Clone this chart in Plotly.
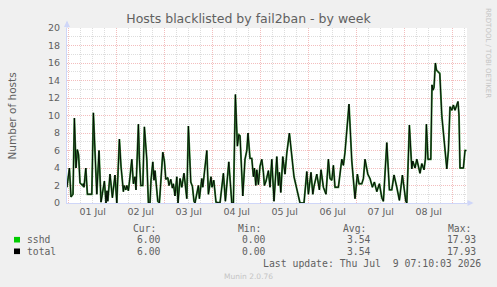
import pandas as pd
import plotly.graph_objects as go

# ---------------- data ----------------
start = pd.Timestamp("2026-06-30 23:10:03")
end = pd.Timestamp("2026-07-09 07:10:03")

hours = [
    0, 1.2, 2, 3, 3.7, 4.5, 5.2, 5.8, 6.5, 7,
    7.8, 8.2, 8.5, 9.4, 10.2, 12.4, 13.2, 14.9, 16, 17,
    18.7, 19.5, 20, 20.4, 21.5, 22.7, 24, 24.9, 26.2, 27,
    28.2, 28.5, 29.4, 29.9, 30.7, 31.5, 32.4, 33.2, 34, 34.5,
    35.7, 36.2, 36.9, 37.9, 38.7, 39.9, 40.7, 41.5, 42, 42.9,
    43.5, 44, 45.4, 46.2, 47.9, 48.7, 49.4, 50.4, 51, 51.9,
    52.7, 53.2, 54, 54.9, 55.5, 56.5, 57.4, 58.5, 59.4, 59.9,
    60.7, 61.9, 62.7, 63.5, 64, 65, 65.7, 66.2, 67.4, 67.9,
    69.9, 70.7, 72, 72.5, 73.4, 74.5, 76.5, 78.2, 79.2, 80.9,
    82.4, 83.2, 84.2, 85.2, 85.9, 86.5, 87.4, 87.9, 89, 89.9,
    90.5, 91.5, 92.4, 93.2, 93.7, 94.4, 94.9, 95.7, 96.5, 97.4,
    98.2, 98.7, 99.5, 100.7, 101.5, 102.4, 103.5, 104.9, 105.7, 106.2,
    106.9, 107.9, 109, 109.9, 111.2, 112.4, 113.5, 114.5, 116.5, 118.5,
    119.9, 120.7, 122, 122.9, 123.5, 124.9, 126.2, 127, 128.2, 129.5,
    130.7, 131.5, 132.4, 133.2, 134, 135.7, 137.4, 138.2, 139, 141,
    142.4, 144, 145.2, 146, 147.4, 148.2, 149, 150.4, 151.5, 152.7,
    153.7, 154.9, 156.2, 157.4, 158.2, 159.9, 161.2, 162.4, 163.5, 164.9,
    166.2, 167.7, 169.4, 169.9, 171.2, 172.4, 172.9, 174, 174.9, 176.5,
    177.4, 178.5, 179.2, 179.7, 180.5, 181.9, 182.5, 183, 183.5, 184.2,
    184.7, 185.5, 186.4, 187.4, 188.2, 189, 189.9, 190.7, 191.5, 192.4,
    193.2, 194, 194.9, 195.5, 196, 196.5, 198.2, 199, 199.7,
]

sshd = [
    1.8, 4.0, 0.7, 1.0, 9.7, 4.0, 6.1, 5.5, 2.3, 2.2,
    2.0, 2.2, 1.8, 4.0, 1.0, 1.0, 10.3, 1.0, 6.0, 0.1,
    2.5, 0, 1.4, 0.2, 3.3, 0.6, 3.2, 0, 7.3, 4.2,
    1.3, 2.0, 1.5, 2.0, 1.4, 3.0, 5.0, 2.2, 3.0, 1.5,
    9.0, 5.0, 2.0, 2.0, 8.7, 5.0, 0, 0, 2.6, 4.7,
    2.6, 3.7, 0.2, 0, 5.8, 4.8, 2.7, 2.9, 2.0, 2.7,
    1.7, 2.2, 0.8, 3.0, 0, 2.8, 1.8, 3.4, 1.4, 0.5,
    8.8, 2.4, 1.9, 0.2, 0, 1.0, 2.0, 0.5, 2.8, 1.8,
    6.0, 1.0, 3.0, 1.8, 2.6, 0.1, 0, 3.4, 0.2, 4.7,
    0, 0, 12.4, 6.5, 7.8, 7.7, 2.0, 0.8, 5.0, 6.0,
    8.0, 5.1, 5.1, 3.0, 4.0, 2.0, 3.8, 2.1, 4.2, 5.0,
    3.5, 2.0, 2.5, 3.7, 1.8, 5.0, 0.2, 5.3, 2.0, 3.5,
    1.2, 5.3, 3.3, 5.7, 8.0, 5.2, 3.0, 2.0, 0, 0,
    3.6, 1.0, 3.5, 1.0, 1.9, 3.3, 1.5, 3.8, 1.8, 1.0,
    5.0, 2.8, 2.6, 4.3, 1.8, 1.8, 5.0, 4.3, 5.8, 11.3,
    4.8, 0.5, 3.3, 2.2, 2.2, 2.8, 5.0, 3.3, 2.8, 1.8,
    2.4, 1.3, 2.2, 0.6, 0.2, 6.9, 1.5, 1.5, 3.2, 1.8,
    0.3, 3.2, 0.2, 0, 8.9, 3.9, 4.8, 4.0, 5.0, 3.4,
    4.5, 3.8, 5.0, 9.0, 5.0, 5.0, 13.5, 12.9, 13.2, 16.0,
    15.2, 15.0, 14.8, 10.0, 8.3, 6.5, 3.9, 6.0, 11.0, 10.6,
    11.2, 10.6, 11.2, 11.6, 10.0, 4.0, 4.0, 6.0, 6.0,
]
total = list(sshd)

series_names = ["sshd", "total"]
series_colors = ["#00CC00", "#000000"]
stat_headers = ["Cur:", "Min:", "Avg:", "Max:"]
stat_values = {
    "sshd": ["6.00", "0.00", "3.54", "17.93"],
    "total": ["6.00", "0.00", "3.54", "17.93"],
}
title_text = "Hosts blacklisted by fail2ban - by week"
y_title = "Number of hosts"
last_update = "Last update: Thu Jul  9 07:10:03 2026"
footer = "Munin 2.0.76"
watermark = "RRDTOOL / TOBI OETIKER"

times = [start + pd.Timedelta(hours=h) for h in hours]

# ---------------- style ----------------
W, H = 497, 287
L, R, T, B = 67, 467, 28, 203
FONT = "DejaVu Sans"
MONO = "DejaVu Sans Mono"
TXT = "#606060"
AXIS = "#CFD6F8"
MGRID = "#F3BDBD"
GRID = "#DDDDDD"


def px(x):
    return (x - L) / (R - L)


def py(y):
    return (B - y) / (B - T)


fig = go.Figure()
fig.add_trace(go.Scatter(x=times, y=sshd, mode="lines", name="sshd",
                         line=dict(color="#3C8F3C", width=1.9),
                         hoverinfo="skip", showlegend=False))
fig.add_trace(go.Scatter(x=times, y=total, mode="lines", name="total",
                         line=dict(color="#000000", width=0.9),
                         hoverinfo="skip", showlegend=False))

fig.update_layout(
    template="none",
    width=W, height=H,
    margin=dict(l=L, r=W - R, t=T, b=H - B, pad=0),
    paper_bgcolor="#F0F0F0",
    plot_bgcolor="#FFFFFF",
    showlegend=False,
    title=dict(text=title_text, x=0.5, xref="container", xanchor="center",
               y=1 - 19 / H, yref="container", yanchor="middle",
               font=dict(family=FONT, size=12.5, color=TXT)),
    xaxis=dict(type="date", range=[start, end], automargin=False,
               dtick=86400000, tick0="2026-07-01 00:00",
               ticklabelmode="period", tickformat="%d %b",
               showgrid=True, gridcolor=MGRID, griddash="1px,1px", gridwidth=1,
               minor=dict(dtick=6 * 3600000, showgrid=True, gridcolor=GRID,
                          griddash="1px,1px", gridwidth=1),
               showline=True, linecolor=AXIS, linewidth=1,
               ticks="", zeroline=False,
               tickfont=dict(family=FONT, size=9.5, color=TXT)),
    yaxis=dict(range=[0, 20], automargin=False, dtick=2, tick0=0,
               showgrid=True, gridcolor=MGRID, griddash="1px,1px", gridwidth=1,
               minor=dict(dtick=1, showgrid=True, gridcolor=GRID,
                          griddash="1px,1px", gridwidth=1),
               showline=True, linecolor=AXIS, linewidth=1,
               ticks="", zeroline=False, ticklabelstandoff=4,
               tickfont=dict(family=FONT, size=9.5, color=TXT)),
)

ann = []


def text(s, x, y, anchor="left", size=9.7, family=MONO, color=TXT, angle=0):
    ann.append(dict(text=s, x=px(x), y=py(y), xref="paper", yref="paper",
                    xanchor=anchor, yanchor="middle", showarrow=False,
                    textangle=angle, borderpad=0,
                    font=dict(family=family, size=size, color=color)))


text(y_title, 11, 115.5, anchor="center", size=10.5, family=FONT, angle=-90)
text(watermark, 488, 53, anchor="center", size=7, family=FONT,
     color="#C4C4C4", angle=90)

header_x = [131.7, 236.7, 342, 446.7]
value_right = [161, 266, 371, 476.7]
for hx, h in zip(header_x, stat_headers):
    text(h, hx, 228)
row_y = [239.7, 251.3]
shapes = []
for name, color, ry in zip(series_names, series_colors, row_y):
    text(name, 26, ry)
    for vx, v in zip(value_right, stat_values[name]):
        text(v, vx, ry, anchor="right")
    shapes.append(dict(type="rect", xref="paper", yref="paper",
                       x0=px(14), x1=px(20), y0=py(ry - 2.8), y1=py(ry + 2.8),
                       fillcolor=color, line=dict(width=0)))
text(last_update, 482.3, 263, anchor="right", size=9.8)
text(footer, 248, 276, anchor="center", size=7.5, family=FONT, color="#C4C4C4")

# axis extensions with arrows
shapes += [
    dict(type="line", xref="paper", yref="paper", x0=0, x1=0, y0=1, y1=py(22),
         line=dict(color=AXIS, width=1)),
    dict(type="path", xref="paper", yref="paper",
         path=f"M {px(67)} {py(20.5)} L {px(64)} {py(27)} L {px(70)} {py(27)} Z",
         fillcolor=AXIS, line=dict(width=0)),
    dict(type="line", xref="paper", yref="paper", x0=1, x1=px(472), y0=0, y1=0,
         line=dict(color=AXIS, width=1)),
    dict(type="path", xref="paper", yref="paper",
         path=f"M {px(473.5)} {py(203)} L {px(467.5)} {py(200)} L {px(467.5)} {py(206)} Z",
         fillcolor=AXIS, line=dict(width=0)),
]

fig.update_layout(annotations=ann, shapes=shapes)
fig.write_html("out.html")
